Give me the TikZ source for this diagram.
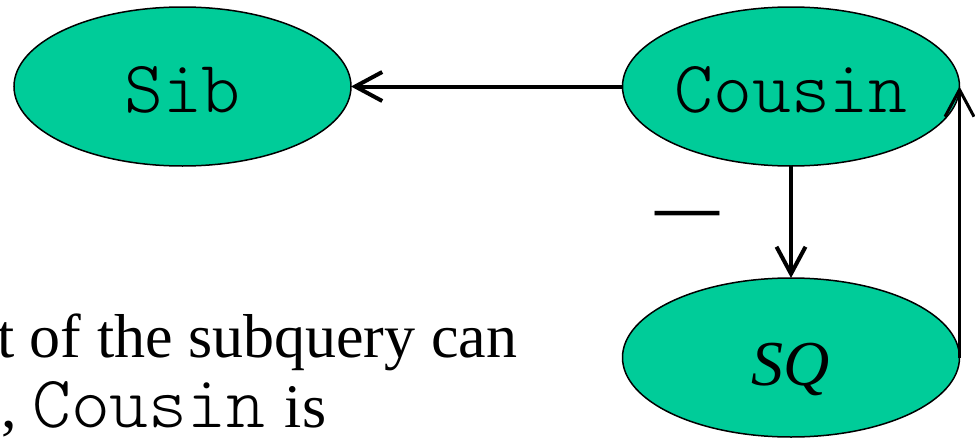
\documentclass[tikz,border=0pt]{standalone}
\usepackage{fontspec}
\setmainfont{Liberation Serif}
\usetikzlibrary{shapes.geometric,arrows.meta}
\definecolor{nodegreen}{RGB}{0,204,153}
% thin typewriter face for relation names
\newcommand{\codeface}[1]{\fontfamily{lmtt}\fontseries{l}\fontsize{#1}{70}\selectfont}
\begin{document}
\begin{tikzpicture}[x=1pt,y=-1pt,
  blob/.style={ellipse, draw=black, line width=1.5pt, fill=nodegreen,
    minimum width=337pt, minimum height=159pt, inner sep=0pt, outer sep=0pt,
    text height=52pt, text depth=0pt},
  link/.style={line width=4pt, -{Straight Barb[length=27pt,width=29pt]}},
  codetext/.style={font=\codeface{74}},
  bodytext/.style={font=\fontsize{62}{70}\selectfont, inner sep=0pt},
  ]
\useasboundingbox (0,0) rectangle (975,439);
\clip (0,0) rectangle (975,439);

% the three relations
\node[blob, codetext] (sib) at (182.5,86.5) {Sib};
\node[blob, codetext] (cousin) at (791,86.5) {Cousin};
\node[blob, text height=55pt, font=\itshape\fontsize{64}{70}\selectfont] (sq) at (791,357.5) {SQ};

% dependencies
\draw[link] (cousin) -- (sib);
\draw[link] (cousin) -- (sq);
\draw[link, line width=3pt] (sq.east) -- (cousin.east);

% sign of the Cousin -> SQ edge
\node[bodytext, font=\bfseries\fontsize{64}{70}\selectfont, anchor=base west] (sign) at (655,228) {—};

% explanatory text
\node[bodytext, anchor=base west] (line1) at (-3,357) {t of the subquery can};
\node[bodytext, anchor=base west] (line2) at (1,427) {,\ {\codeface{74}Cousin}\kern4pt\ is};
\end{tikzpicture}
\end{document}
